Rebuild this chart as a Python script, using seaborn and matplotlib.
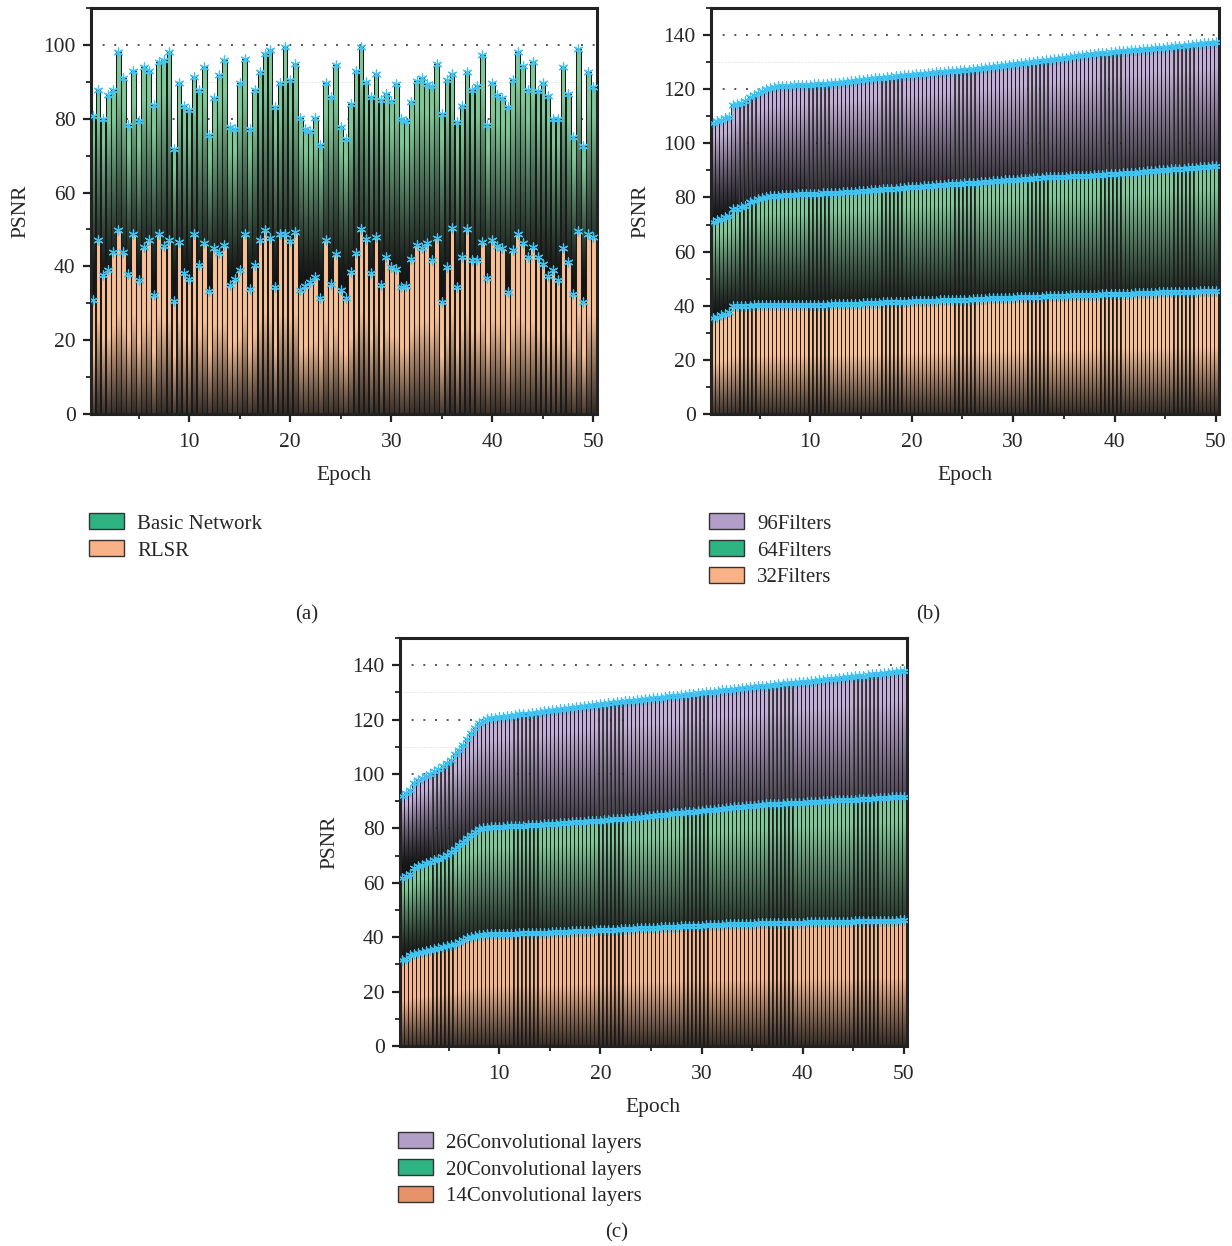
import numpy as np
import seaborn as sns
import matplotlib.pyplot as plt
from matplotlib.path import Path
from matplotlib.patches import PathPatch, Patch
from matplotlib.ticker import MultipleLocator
from matplotlib.colors import to_rgb

# ---------------- data ----------------
# panel (a): 100 bars, epoch step 0.5
epoch_a = np.arange(1, 101) * 0.5
basic_network = [
    80.7, 87.7, 80.0, 86.5, 87.7, 98.0, 91.1, 78.2, 93.0, 79.4,
    93.9, 92.9, 83.6, 95.3, 95.8, 98.2, 71.7, 89.7, 83.4, 82.3,
    91.3, 87.9, 93.9, 75.5, 85.5, 91.8, 96.0, 77.8, 77.1, 89.7,
    96.3, 77.1, 87.7, 92.7, 97.5, 98.7, 83.2, 89.7, 99.5, 90.6,
    94.8, 80.3, 77.1, 76.7, 80.3, 72.8, 89.7, 85.9, 94.5, 77.8,
    74.6, 83.9, 93.0, 99.3, 90.0, 85.9, 92.2, 85.2, 86.8, 84.8,
    89.5, 80.0, 79.4, 84.6, 90.2, 91.1, 89.5, 88.8, 94.9, 81.4,
    90.4, 92.2, 79.1, 83.4, 92.6, 87.9, 88.8, 97.2, 78.2, 89.7,
    86.4, 85.5, 83.2, 90.6, 98.1, 94.2, 87.9, 95.4, 87.5, 89.7,
    86.1, 80.0, 79.8, 93.9, 86.6, 75.1, 99.0, 72.5, 92.7, 88.6]
rlsr = [
    30.8, 47.1, 37.6, 39.1, 43.9, 49.8, 43.9, 37.8, 48.9, 36.2,
    45.3, 47.2, 32.2, 48.7, 45.4, 47.1, 30.6, 46.6, 38.2, 36.7,
    48.9, 40.3, 46.2, 33.3, 45.0, 43.6, 45.7, 34.9, 36.7, 39.1,
    48.9, 34.0, 40.3, 47.2, 49.8, 47.8, 34.4, 48.7, 48.7, 46.9,
    49.3, 33.5, 34.6, 35.8, 37.1, 31.3, 47.2, 35.3, 43.3, 33.7,
    31.3, 38.5, 43.6, 50.2, 47.5, 38.2, 48.0, 34.9, 42.5, 39.7,
    39.4, 34.4, 34.6, 42.1, 45.7, 45.1, 46.3, 41.8, 47.8, 30.4,
    39.8, 50.5, 34.4, 42.5, 50.2, 41.6, 41.8, 46.6, 36.9, 47.2,
    45.4, 45.1, 33.1, 44.5, 48.7, 46.3, 42.5, 45.3, 42.5, 40.7,
    37.3, 39.1, 36.4, 44.9, 41.2, 32.6, 49.6, 30.4, 48.9, 48.0]

# panels (b) and (c): 125 bars, epoch step 0.4
epoch_bc = np.arange(1, 126) * 0.4
filters_96 = [
    107.5, 108.2, 108.8, 109.3, 109.8, 114.0, 114.5, 115.0, 115.5, 117.2,
    117.8, 118.6, 119.3, 120.0, 120.6, 120.9, 121.0, 121.1, 121.2, 121.3,
    121.4, 121.5, 121.5, 121.6, 121.7, 121.8, 121.9, 122.0, 122.1, 122.2,
    122.3, 122.4, 122.6, 122.8, 122.9, 123.1, 123.3, 123.4, 123.6, 123.8,
    124.0, 124.1, 124.3, 124.5, 124.6, 124.8, 125.0, 125.1, 125.2, 125.4,
    125.5, 125.7, 125.8, 125.9, 126.1, 126.2, 126.3, 126.5, 126.6, 126.7,
    126.9, 127.0, 127.1, 127.2, 127.3, 127.5, 127.7, 127.9, 128.1, 128.2,
    128.4, 128.6, 128.8, 129.0, 129.2, 129.4, 129.6, 129.8, 130.0, 130.2,
    130.4, 130.6, 130.8, 130.9, 131.1, 131.3, 131.5, 131.7, 131.9, 132.1,
    132.3, 132.5, 132.7, 132.9, 133.0, 133.2, 133.4, 133.5, 133.7, 133.8,
    134.0, 134.1, 134.2, 134.4, 134.5, 134.6, 134.8, 134.9, 135.0, 135.2,
    135.3, 135.4, 135.6, 135.7, 135.8, 136.0, 136.1, 136.3, 136.5, 136.6,
    136.8, 136.9, 137.1, 137.2, 137.4]
filters_64 = [
    71.0, 71.6, 72.2, 72.7, 73.2, 75.6, 75.9, 76.3, 76.7, 78.2,
    78.8, 79.3, 79.8, 80.2, 80.5, 80.6, 80.7, 80.8, 80.8, 80.9,
    81.0, 81.1, 81.1, 81.2, 81.3, 81.3, 81.4, 81.5, 81.6, 81.6,
    81.7, 81.8, 81.9, 82.0, 82.1, 82.2, 82.3, 82.4, 82.5, 82.6,
    82.8, 82.9, 83.0, 83.1, 83.2, 83.3, 83.5, 83.6, 83.7, 83.8,
    83.9, 84.0, 84.1, 84.2, 84.4, 84.5, 84.6, 84.7, 84.8, 84.9,
    85.0, 85.1, 85.2, 85.3, 85.4, 85.5, 85.6, 85.7, 85.8, 86.0,
    86.1, 86.2, 86.3, 86.4, 86.5, 86.6, 86.8, 86.9, 87.0, 87.1,
    87.3, 87.3, 87.4, 87.5, 87.5, 87.6, 87.7, 87.7, 87.8, 87.9,
    87.9, 88.0, 88.1, 88.1, 88.2, 88.3, 88.4, 88.5, 88.6, 88.7,
    88.8, 88.9, 89.0, 89.1, 89.2, 89.3, 89.5, 89.6, 89.7, 89.8,
    90.0, 90.1, 90.2, 90.4, 90.5, 90.6, 90.7, 90.8, 90.9, 91.0,
    91.1, 91.2, 91.3, 91.5, 91.6]
filters_32 = [
    35.3, 35.9, 36.5, 37.1, 37.7, 39.9, 39.9, 40.0, 40.0, 40.0,
    40.1, 40.1, 40.1, 40.1, 40.2, 40.2, 40.2, 40.2, 40.2, 40.3,
    40.3, 40.3, 40.3, 40.3, 40.4, 40.4, 40.4, 40.4, 40.4, 40.5,
    40.5, 40.5, 40.6, 40.6, 40.7, 40.7, 40.8, 40.9, 40.9, 41.0,
    41.0, 41.1, 41.2, 41.2, 41.3, 41.4, 41.4, 41.5, 41.5, 41.6,
    41.6, 41.7, 41.7, 41.8, 41.9, 41.9, 42.0, 42.0, 42.1, 42.1,
    42.2, 42.2, 42.3, 42.3, 42.4, 42.5, 42.5, 42.6, 42.7, 42.7,
    42.8, 42.8, 42.9, 43.0, 43.0, 43.1, 43.1, 43.2, 43.3, 43.3,
    43.4, 43.4, 43.5, 43.5, 43.6, 43.6, 43.7, 43.7, 43.8, 43.8,
    43.9, 43.9, 44.0, 44.0, 44.1, 44.1, 44.2, 44.2, 44.3, 44.3,
    44.4, 44.4, 44.5, 44.5, 44.6, 44.6, 44.7, 44.7, 44.8, 44.8,
    44.9, 44.9, 45.0, 45.0, 45.0, 45.1, 45.1, 45.1, 45.2, 45.2,
    45.3, 45.3, 45.3, 45.4, 45.4]
conv_26 = [
    92.0, 93.0, 94.0, 96.8, 97.8, 98.5, 99.2, 100.0, 101.0, 101.9,
    102.9, 104.0, 105.2, 107.3, 108.7, 110.6, 112.9, 115.1, 117.0, 118.7,
    119.6, 120.1, 120.5, 120.7, 120.9, 121.1, 121.3, 121.5, 121.7, 121.9,
    122.0, 122.2, 122.4, 122.6, 122.8, 123.0, 123.2, 123.4, 123.6, 123.8,
    123.9, 124.1, 124.3, 124.5, 124.7, 124.9, 125.0, 125.2, 125.4, 125.6,
    125.8, 126.0, 126.1, 126.3, 126.5, 126.7, 126.8, 127.0, 127.2, 127.3,
    127.5, 127.6, 127.8, 128.0, 128.1, 128.3, 128.5, 128.6, 128.8, 129.0,
    129.1, 129.3, 129.5, 129.6, 129.8, 130.0, 130.2, 130.3, 130.5, 130.7,
    130.9, 131.0, 131.2, 131.4, 131.6, 131.8, 131.9, 132.1, 132.3, 132.4,
    132.5, 132.7, 132.8, 133.0, 133.1, 133.3, 133.4, 133.6, 133.7, 133.8,
    134.0, 134.1, 134.3, 134.4, 134.6, 134.8, 134.9, 135.1, 135.3, 135.4,
    135.6, 135.7, 135.9, 136.1, 136.2, 136.4, 136.6, 136.7, 136.9, 137.0,
    137.2, 137.4, 137.5, 137.7, 137.9]
conv_20 = [
    61.8, 62.6, 63.4, 65.5, 66.1, 66.6, 67.2, 67.7, 68.3, 68.9,
    69.6, 70.3, 71.2, 72.5, 73.8, 75.0, 76.5, 77.6, 78.6, 79.6,
    80.1, 80.3, 80.4, 80.5, 80.5, 80.6, 80.7, 80.8, 80.9, 80.9,
    81.0, 81.1, 81.2, 81.3, 81.4, 81.5, 81.6, 81.7, 81.8, 81.9,
    82.0, 82.1, 82.2, 82.3, 82.4, 82.5, 82.6, 82.7, 82.8, 82.9,
    83.0, 83.2, 83.3, 83.4, 83.5, 83.6, 83.7, 83.9, 84.0, 84.2,
    84.3, 84.5, 84.6, 84.8, 85.0, 85.1, 85.3, 85.5, 85.6, 85.8,
    85.9, 86.1, 86.2, 86.3, 86.5, 86.6, 86.8, 86.9, 87.1, 87.2,
    87.4, 87.5, 87.7, 87.8, 88.0, 88.1, 88.3, 88.4, 88.6, 88.7,
    88.8, 88.9, 88.9, 89.0, 89.1, 89.2, 89.3, 89.4, 89.4, 89.5,
    89.6, 89.7, 89.8, 89.8, 89.9, 90.1, 90.2, 90.3, 90.3, 90.4,
    90.5, 90.6, 90.6, 90.7, 90.8, 90.9, 90.9, 91.0, 91.1, 91.2,
    91.3, 91.4, 91.5, 91.6, 91.7]
conv_14 = [
    31.5, 32.0, 33.4, 33.9, 34.2, 34.6, 35.0, 35.3, 35.7, 36.0,
    36.3, 36.6, 37.0, 37.5, 38.2, 39.0, 39.7, 40.2, 40.6, 40.8,
    40.9, 41.0, 41.0, 41.1, 41.1, 41.2, 41.2, 41.3, 41.3, 41.4,
    41.4, 41.5, 41.5, 41.6, 41.6, 41.7, 41.7, 41.8, 41.8, 41.9,
    42.0, 42.0, 42.1, 42.2, 42.2, 42.3, 42.4, 42.4, 42.5, 42.6,
    42.6, 42.7, 42.8, 42.8, 42.9, 43.0, 43.1, 43.1, 43.2, 43.3,
    43.3, 43.4, 43.5, 43.5, 43.6, 43.7, 43.8, 43.8, 43.9, 44.0,
    44.0, 44.1, 44.2, 44.2, 44.3, 44.4, 44.4, 44.5, 44.6, 44.6,
    44.7, 44.7, 44.8, 44.8, 44.9, 44.9, 45.0, 45.0, 45.1, 45.1,
    45.1, 45.2, 45.2, 45.2, 45.3, 45.3, 45.3, 45.4, 45.4, 45.4,
    45.5, 45.5, 45.5, 45.5, 45.5, 45.5, 45.6, 45.6, 45.6, 45.7,
    45.7, 45.7, 45.8, 45.8, 45.8, 45.9, 45.9, 45.9, 46.0, 46.0,
    46.0, 46.1, 46.1, 46.2, 46.2]

GREEN_TOP, GREEN_KEY = "#80c998", "#2db482"
ORANGE_TOP, ORANGE_KEY = "#f9c096", "#f9b187"
PURPLE_TOP, PURPLE_KEY = "#c2aed8", "#b39dc9"
SALMON_TOP, SALMON_KEY = "#f6b78e", "#e8926a"
STAR = "#3fc3f2"

sns.set_theme(style="white")
plt.rcParams['font.family'] = ['Liberation Serif', 'DejaVu Serif']
plt.rcParams['font.size'] = 13


def gradient_bars(ax, x, y, lo, top, z, ymax, span=0.85, gamma=1.3, edge_lw=0.6):
    """bars drawn by seaborn, filled with a vertical fade to black"""
    n0 = len(ax.patches)
    sns.barplot(x=x, y=y, native_scale=True, width=0.92, color=top,
                errorbar=None, ax=ax, zorder=z)
    bars = ax.patches[n0:]
    step = x[1] - x[0]
    yy = np.linspace(0, ymax, 600)[:, None]
    h = np.asarray(y)[None, :]
    t = np.clip((yy - lo) / (h - lo) / span, 0, 1) ** gamma
    dark = np.array(to_rgb("#141414"))
    img = dark + (np.array(to_rgb(top)) - dark) * t[..., None]
    im = ax.imshow(img, extent=(x[0] - step / 2, x[-1] + step / 2, 0, ymax),
                   origin="lower", aspect="auto", interpolation="nearest",
                   zorder=z - 0.05)
    path = Path.make_compound_path(
        *[b.get_path().transformed(b.get_patch_transform()) for b in bars])
    im.set_clip_path(PathPatch(path, transform=ax.transData))
    for b in bars:
        b.set_facecolor("none")
        b.set_edgecolor("#191919")
        b.set_linewidth(edge_lw)
    sns.scatterplot(x=x, y=y, marker=(6, 2, 0), color=STAR, s=42,
                    linewidth=0.9, ax=ax, zorder=5)


def style_axes(ax, ymax, ymajor, xlo, xhi):
    ax.yaxis.set_minor_locator(MultipleLocator(10))
    ax.xaxis.set_minor_locator(MultipleLocator(5))
    ax.set_yticks(np.arange(0, ymajor + 1, 20))
    ax.set_xticks([10, 20, 30, 40, 50])
    ax.set_xlim(xlo, xhi)
    ax.set_ylim(0, ymax)
    ax.set_axisbelow(True)
    ax.grid(True, axis="y", which="major", color="#555555",
            linestyle=(0, (1, 5)), linewidth=1.4)
    ax.grid(True, axis="y", which="minor", color="#e2e2e2",
            linestyle=(0, (2, 2)), linewidth=0.6)
    ax.grid(False, axis="x", which="both")
    ax.tick_params(which="major", direction="out", length=6, width=1.6,
                   color="#222222", labelsize=15.5, left=True, bottom=True,
                   pad=5)
    ax.tick_params(axis="x", which="major", pad=8)
    ax.tick_params(which="minor", direction="out", length=3.5, width=1.3,
                   color="#222222", left=True, bottom=True)
    for sp in ax.spines.values():
        sp.set_visible(True)
        sp.set_linewidth(2.2)
        sp.set_color("#222222")
    ax.set_xlabel("Epoch", fontsize=15.5, labelpad=10)
    ax.set_ylabel("PSNR", fontsize=15.5, labelpad=9)


def add_legend(ax, entries, ytop):
    handles = [Patch(facecolor=c, edgecolor="#333333", linewidth=1.0) for c, _ in entries]
    ax.legend(handles, [l for _, l in entries], loc="upper left",
              bbox_to_anchor=(-0.004, ytop), frameon=False, fontsize=15,
              handlelength=1.7, handleheight=0.8, labelspacing=0.32,
              handletextpad=0.6, borderaxespad=0, borderpad=0)


W, H = 1232, 1246
fig = plt.figure(figsize=(W / 100, H / 100), dpi=100)
ax_a = fig.add_axes([91 / W, 1 - 414 / H, 506 / W, 406 / H])
ax_b = fig.add_axes([711 / W, 1 - 414 / H, 508 / W, 406 / H])
ax_c = fig.add_axes([400 / W, 1 - 1046 / H, 507 / W, 408 / H])

# (a)
gradient_bars(ax_a, epoch_a, basic_network, 36, GREEN_TOP, 1.0, 110, edge_lw=0.75)
gradient_bars(ax_a, epoch_a, rlsr, -6, ORANGE_TOP, 1.5, 110, span=0.6, gamma=1.2,
              edge_lw=0.75)
style_axes(ax_a, 110, 100, 0.3, 50.35)
add_legend(ax_a, [(GREEN_KEY, "Basic Network"), (ORANGE_KEY, "RLSR")], -0.245)

# (b)
gradient_bars(ax_b, epoch_bc, filters_96, 72, PURPLE_TOP, 1.0, 150)
gradient_bars(ax_b, epoch_bc, filters_64, 36, GREEN_TOP, 1.5, 150)
gradient_bars(ax_b, epoch_bc, filters_32, -6, ORANGE_TOP, 2.0, 150, span=0.6, gamma=1.2)
style_axes(ax_b, 150, 140, 0.2, 50.3)
add_legend(ax_b, [(PURPLE_KEY, "96Filters"), (GREEN_KEY, "64Filters"),
                  (ORANGE_KEY, "32Filters")], -0.245)

# (c)
gradient_bars(ax_c, epoch_bc, conv_26, 66, PURPLE_TOP, 1.0, 150)
gradient_bars(ax_c, epoch_bc, conv_20, 32, GREEN_TOP, 1.5, 150)
gradient_bars(ax_c, epoch_bc, conv_14, -6, SALMON_TOP, 2.0, 150, span=0.6, gamma=1.2)
style_axes(ax_c, 150, 140, 0.2, 50.3)
add_legend(ax_c, [(PURPLE_KEY, "26Convolutional layers"),
                  (GREEN_KEY, "20Convolutional layers"),
                  (SALMON_KEY, "14Convolutional layers")], -0.212)

fig.text(307 / W, 1 - 615 / H, "(a)", ha="center", va="center", fontsize=15)
fig.text(928 / W, 1 - 615 / H, "(b)", ha="center", va="center", fontsize=15)
fig.text(617 / W, 1 - 1233 / H, "(c)", ha="center", va="center", fontsize=15)

fig.savefig("out.png", dpi=100)
